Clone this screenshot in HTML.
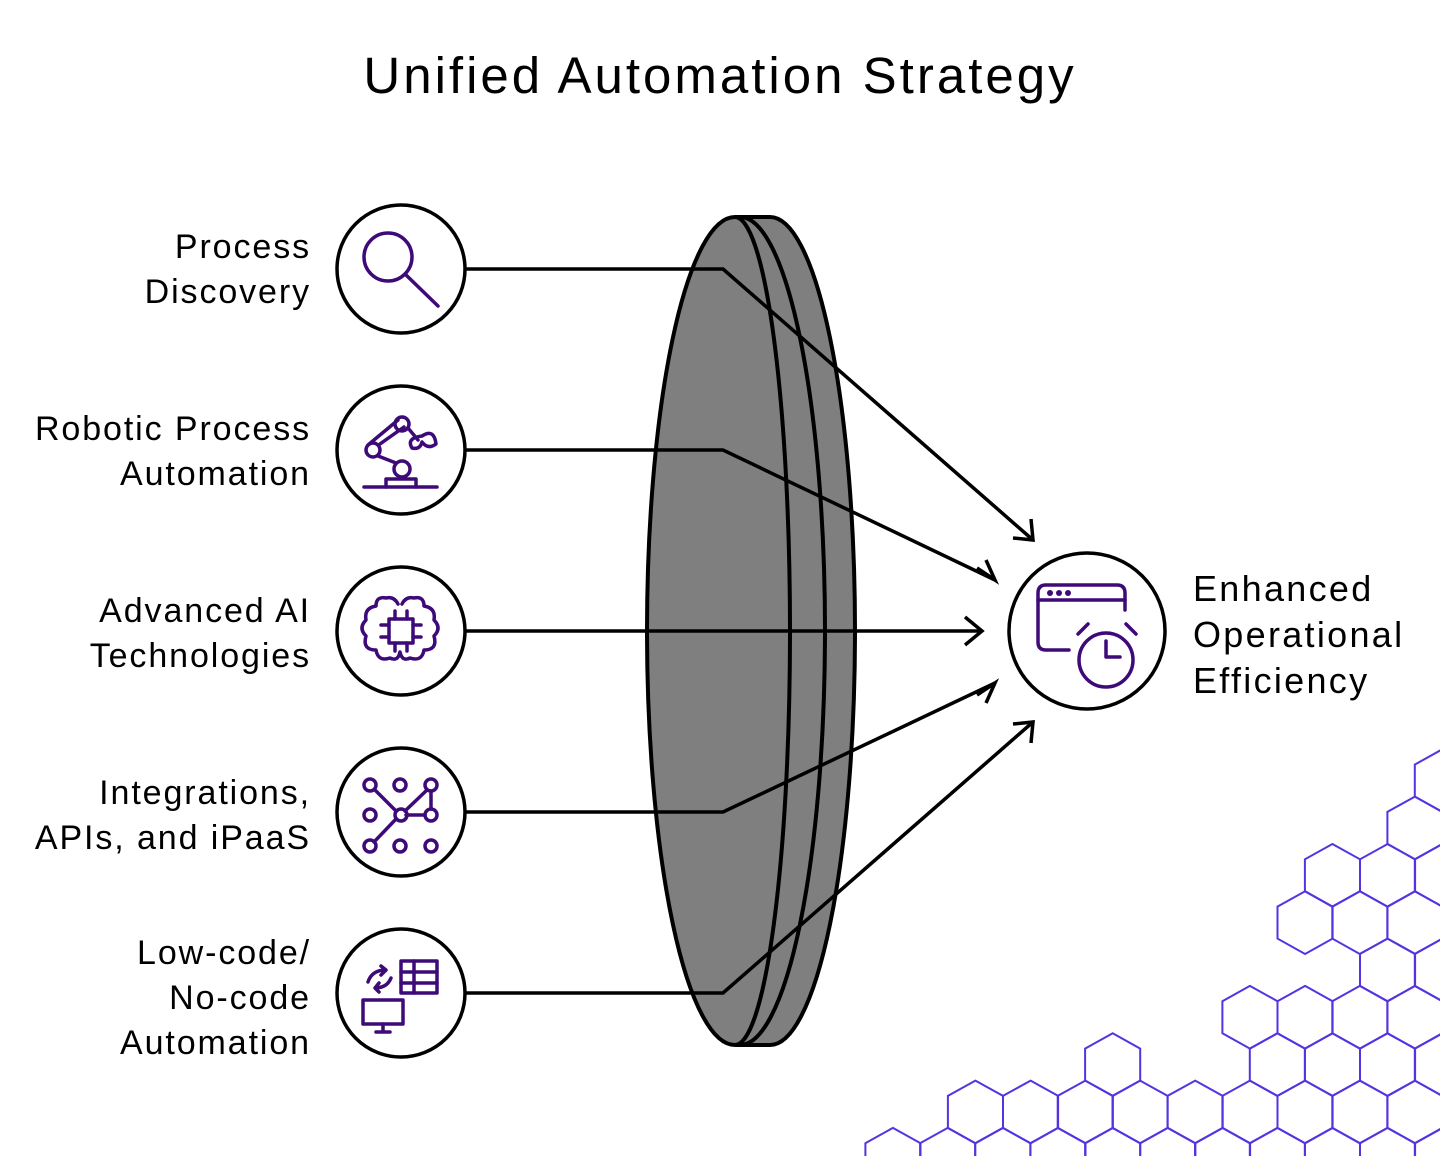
<!DOCTYPE html>
<html><head><meta charset="utf-8"><style>
html,body{margin:0;padding:0;background:#fff;}
body{width:1440px;height:1156px;overflow:hidden;position:relative;font-family:"Liberation Sans",sans-serif;}
.t{position:absolute;color:#000;}
.lbl{position:absolute;right:1129px;text-align:right;font-size:34px;line-height:45px;white-space:nowrap;letter-spacing:1.9px;}
</style></head><body>
<div class="t" style="left:0;width:1440px;top:44px;text-align:center;font-size:51px;line-height:64px;letter-spacing:3px;">Unified Automation Strategy</div>
<div class="lbl" style="top:225px;">Process<br>Discovery</div>
<div class="lbl" style="top:407px;">Robotic Process<br>Automation</div>
<div class="lbl" style="top:589px;">Advanced AI<br>Technologies</div>
<div class="lbl" style="top:771px;">Integrations,<br>APIs, and iPaaS</div>
<div class="lbl" style="top:931px;">Low-code/<br>No-code<br>Automation</div>
<div class="t" style="left:1193px;top:566px;font-size:36px;line-height:46px;letter-spacing:2.3px;">Enhanced<br>Operational<br>Efficiency</div>
<svg width="1440" height="1156" style="position:absolute;left:0;top:0" xmlns="http://www.w3.org/2000/svg">
<g id="hex" fill="none" stroke="#5533e0" stroke-width="2"></g>
<path d="M735,217 A88,414 0 0 0 735,1045 L770,1045 A85,414 0 0 0 770,217 Z" fill="#7f7f7f" stroke="#000" stroke-width="4"/>
<path d="M735,217 A55,414 0 0 1 735,1045" fill="none" stroke="#000" stroke-width="4"/>
<path d="M740,217 A85,414 0 0 1 740,1045" fill="none" stroke="#000" stroke-width="4"/>
<g fill="none" stroke="#000" stroke-width="3.5" stroke-linejoin="miter">
<path d="M466,269 L723,269 L1033,540"/><path d="M1013,538 L1033,540 L1031,519"/>
<path d="M466,450 L723,450 L995,580"/><path d="M977,568 L995,580 L986,560"/>
<path d="M466,631 L982,631"/><path d="M965,617 L982,631 L965,645"/>
<path d="M466,812 L723,812 L995,683"/><path d="M986,703 L995,683 L977,695"/>
<path d="M466,993 L723,993 L1033,722"/><path d="M1031,743 L1033,722 L1013,724"/>
</g>
<g fill="#fff" stroke="#000" stroke-width="3.5">
<circle cx="401" cy="269" r="64"/><circle cx="401" cy="450" r="64"/><circle cx="401" cy="631" r="64"/><circle cx="401" cy="812" r="64"/><circle cx="401" cy="993" r="64"/>
<circle cx="1087" cy="631" r="78"/>
</g>
<g fill="none" stroke="#3d0a78" stroke-width="3.5" stroke-linecap="round" stroke-linejoin="round">
<circle cx="388" cy="257" r="24"/><path d="M405,274 L438,306"/>
<path d="M364,487 L437,487"/><path d="M386,487 v-8 h30 v8"/><circle cx="402" cy="469" r="8"/>
<circle cx="373" cy="450" r="7"/><path d="M378,456 L396,463 M368,445 L398,420 M380,444 L404,427"/><circle cx="402" cy="424" r="7"/>
<path d="M408,428 L418,440"/><path d="M422,436 q12,-8 14,8 q-8,6 -14,-2 q-2,8 -10,6 q-6,-10 10,-12"/>
<rect x="389" y="619" width="24" height="24"/><path d="M395,619 v-8 M407,619 v-8 M395,643 v8 M407,643 v8 M389,625 h-8 M389,637 h-8 M413,625 h8 M413,637 h8"/>
<path d="M398,604 q-4,-8 -12,-6 q-10,-2 -10,8 q-12,2 -10,14 q-8,8 0,16 q-4,14 10,14 q2,12 14,8 q8,4 10,-6 q2,10 10,6 q12,4 14,-8 q14,0 10,-14 q8,-8 0,-16 q2,-12 -10,-14 q0,-10 -10,-8 q-8,-2 -12,6"/>
<circle cx="370" cy="785" r="6"/><circle cx="400" cy="785" r="6"/><circle cx="431" cy="785" r="6"/>
<circle cx="370" cy="815" r="6"/><circle cx="401" cy="815" r="6"/><circle cx="431" cy="815" r="6"/>
<circle cx="370" cy="846" r="6"/><circle cx="400" cy="846" r="6"/><circle cx="431" cy="846" r="6"/>
<path d="M375,790 L396,811 M406,815 L425,815 M405,811 L427,790 M431,791 L431,809 M396,819 L374,842"/>
<rect x="401" y="961" width="36" height="32"/><path d="M401,972 h36 M401,983 h36 M414,961 v32"/>
<rect x="363" y="1000" width="40" height="24"/><path d="M376,1032 h14 M383,1024 v8"/>
<path d="M368,982 q4,-12 18,-12 l-5,-4 M386,970 l-5,5"/><path d="M391,978 q-4,10 -16,10 l4,4 M375,988 l4,-5"/>
<path d="M1069,650 H1046 q-8,0 -8,-8 V593 q0,-8 8,-8 H1117 q8,0 8,8 V610"/><path d="M1038,600 H1125"/>
<circle cx="1106" cy="660" r="27"/><path d="M1106,641 V657 H1120"/><path d="M1078,634 L1088,624 M1126,624 L1136,634"/>
</g>
<g fill="#3d0a78"><circle cx="1050" cy="593" r="3"/><circle cx="1059" cy="593" r="3"/><circle cx="1068" cy="593" r="3"/></g>
</svg>
<script>
(function(){
var g=document.getElementById('hex');
function X(z){return 860+z/2.703;}
var rows={0:[1574],1:[1500],2:[1277,1426,1574],3:[1203,1351,1500],4:[1426,1574],5:[1054,1203,1351,1500],6:[683,1128,1277,1426,1574],7:[312,461,609,757,906,1054,1203,1351,1500,1649],8:[89,237,386,535,683,832,980,1128,1277,1426,1574]};
var s='';
for(var r in rows){var top=749.3+47.33*r;rows[r].forEach(function(zx){var cx=X(zx),h=27.56;
var p=[[cx,top],[cx+h,top+15.3],[cx+h,top+47.3],[cx,top+62.7],[cx-h,top+47.3],[cx-h,top+15.3]];
s+='<polygon points="'+p.map(function(q){return q[0].toFixed(1)+','+q[1].toFixed(1)}).join(' ')+'"/>';});}
g.innerHTML=s;
})();
</script>
</body></html>
